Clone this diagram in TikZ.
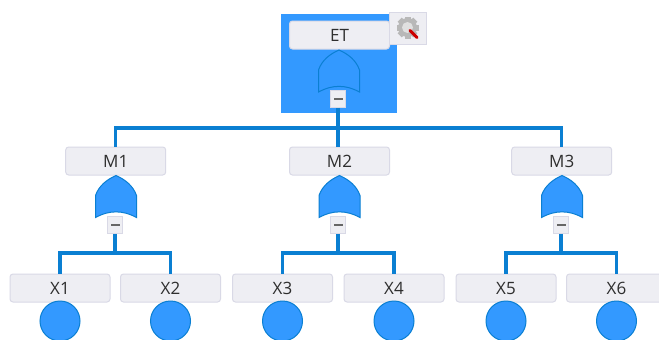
\documentclass[tikz,border=0pt]{standalone}
\usepackage{fontspec}
\setmainfont{Open Sans}
\definecolor{linkblue}{HTML}{0A7FD2}
\definecolor{fillblue}{HTML}{3399FF}
\definecolor{boxfill}{HTML}{EEEEF3}
\definecolor{boxline}{HTML}{D9D9E6}
\tikzset{
  x=1pt,y=-1pt,
  label box/.style={draw=boxline,line width=1pt,fill=boxfill,rounded corners=3pt,minimum width=100pt,minimum height=28pt,inner sep=0pt,text height=12.2pt,text depth=0pt,font=\fontsize{17}{20}\selectfont,text=black!82},
  toggle/.style={draw=boxline,line width=1pt,fill=boxfill,minimum width=15pt,minimum height=16.5pt,inner sep=0pt},
  event/.style={circle,draw=linkblue,line width=1pt,fill=fillblue,minimum size=40pt,inner sep=0pt},
  link/.style={draw=linkblue,line width=3.5pt},
  gate shape/.style={draw=linkblue,line width=1pt,fill=fillblue},
  pics/orgate/.style={code={
    \path[gate shape] (0,-21) .. controls (9,-17) and (17,-11) .. (20.5,-1)
      -- (20.5,21) .. controls (7,13.5) and (-7,13.5) .. (-20.5,21)
      -- (-20.5,-1) .. controls (-17,-11) and (-9,-17) .. (0,-21) -- cycle;
  }},
  pics/minus/.style={code={
    \fill[black!60] (-4.5,-1.2) rectangle (4.5,1.2);
  }}
}
\begin{document}
\begin{tikzpicture}
\clip (0,0) rectangle (659,340);
\fill[white] (0,0) rectangle (659,340);
\fill[fillblue] (281,14) rectangle (397,113);

\node[label box] (et) at (339.5,35) {ET};
\node[label box] (m1) at (115.7,161) {M1};
\node[label box] (m2) at (339.5,161) {M2};
\node[label box] (m3) at (561.7,161) {M3};
\node[label box] (x1) at (60,288) {X1};
\node[label box] (x2) at (170.5,288) {X2};
\node[label box] (x3) at (282.5,288) {X3};
\node[label box] (x4) at (394,288) {X4};
\node[label box] (x5) at (506,288) {X5};
\node[label box] (x6) at (616.5,288) {X6};

\node[toggle] (te) at (338,99) {};
\node[toggle] (t1) at (115,225) {};
\node[toggle] (t2) at (338,225) {};
\node[toggle] (t3) at (561,225) {};

\coordinate (bus) at (338,128);
\coordinate (j1) at (115,253);
\coordinate (j2) at (338,253);
\coordinate (j3) at (561,253);

\path[link] (te.south) -- (te.south |- m2.north);
\path[link] (m1.north) |- (bus) -| (m3.north);
\path[link] (t1.south) -- (j1);
\path[link] (t2.south) -- (j2);
\path[link] (t3.south) -- (j3);
\path[link] (x1.north) |- (j1) -| (x2.north);
\path[link] (x3.north) |- (j2) -| (x4.north);
\path[link] (x5.north) |- (j3) -| (x6.north);

\pic at (339,71) {orgate};
\pic at (116,196.5) {orgate};
\pic at (339.5,196.5) {orgate};
\pic at (562,196.5) {orgate};
\pic at (te.center) {minus};
\pic at (t1.center) {minus};
\pic at (t2.center) {minus};
\pic at (t3.center) {minus};

\node[event] (c1) at (60,321) {};
\node[event] (c2) at (170.5,321) {};
\node[event] (c3) at (282.5,321) {};
\node[event] (c4) at (394,321) {};
\node[event] (c5) at (506,321) {};
\node[event] (c6) at (616.5,321) {};

% tool icon
\node[draw=boxline,line width=1pt,fill=boxfill,minimum width=37pt,minimum height=32pt,inner sep=0pt] (icon) at (408,28.5) {};
\foreach \a in {0,45,...,315}
  \fill[black!28,rotate around={\a:(407.5,27.5)}] (404.5,16.5) rectangle (410.5,22);
\fill[black!28] (407.5,27.5) circle (9.5);
\fill[black!12] (407.5,27.5) circle (5.5);
\draw[red!80!black,line width=3pt,line cap=round] (410,30.5) -- (417,37.5);
\end{tikzpicture}
\end{document}
